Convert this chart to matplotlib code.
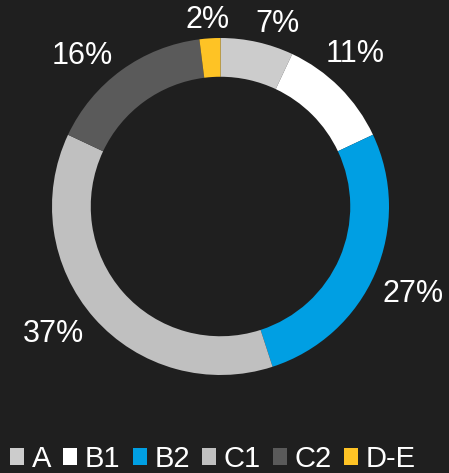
import numpy as np
import matplotlib.pyplot as plt
from matplotlib.patches import Patch

# --- Data ---
categories = ['A', 'B1', 'B2', 'C1', 'C2', 'D-E']
shares = [7, 11, 27, 37, 16, 2]
colors = ['#cccccc', '#ffffff', '#009fe3', '#c0c0c0', '#5a5a5a', '#fec325']

# small angular nudges (deg) so labels sit like in the original layout
label_nudge = [-4.5, 4.0, -0.3, -4.6, 6.0, 0.3]

BG = '#1f1f1f'
plt.rcParams['font.family'] = ['Liberation Sans', 'DejaVu Sans']

fig = plt.figure(figsize=(4.49, 4.73), dpi=100, facecolor=BG)
ax = fig.add_axes([0, 0, 1, 1])
ax.set_facecolor(BG)

R = 168.5
cx, cy = 220.5, 206.5

wedges, _ = ax.pie(shares, colors=colors, startangle=90, counterclock=False,
                   radius=1.0, wedgeprops=dict(width=0.23, edgecolor='none'))

# pie() resets the limits, so set them afterwards
ax.set_xlim(-cx / R, (449 - cx) / R)
ax.set_ylim(-(473 - cy) / R, cy / R)
ax.set_aspect('equal')
ax.axis('off')

# percentage labels outside the ring
total = sum(shares)
fs = 22
em = fs * 100 / 72 / R  # em size in data units
for w, v, nudge in zip(wedges, shares, label_nudge):
    theta = np.deg2rad((w.theta1 + w.theta2) / 2 + nudge)
    ux, uy = np.cos(theta), np.sin(theta)
    txt = f'{round(100 * v / total)}%'
    tw = (0.556 * (len(txt) - 1) + 0.889) * em
    th = 0.72 * em
    r = 1.0 + 9 / R + abs(ux) * tw / 2 + abs(uy) * th / 2
    ax.text(r * ux, r * uy - 0.1 * em, txt, color='white', fontsize=fs,
            ha='center', va='center')

handles = [Patch(facecolor=c, edgecolor='none') for c in colors]
leg = ax.legend(handles, categories, loc='lower center', bbox_to_anchor=(0.4744, -0.012),
                ncol=6, frameon=False, fontsize=21, handlelength=0.48,
                handleheight=0.48, handletextpad=0.26, columnspacing=0.42,
                borderaxespad=0.0, borderpad=0.2, labelcolor='white')

fig.savefig('out.png', dpi=100, facecolor=BG)
